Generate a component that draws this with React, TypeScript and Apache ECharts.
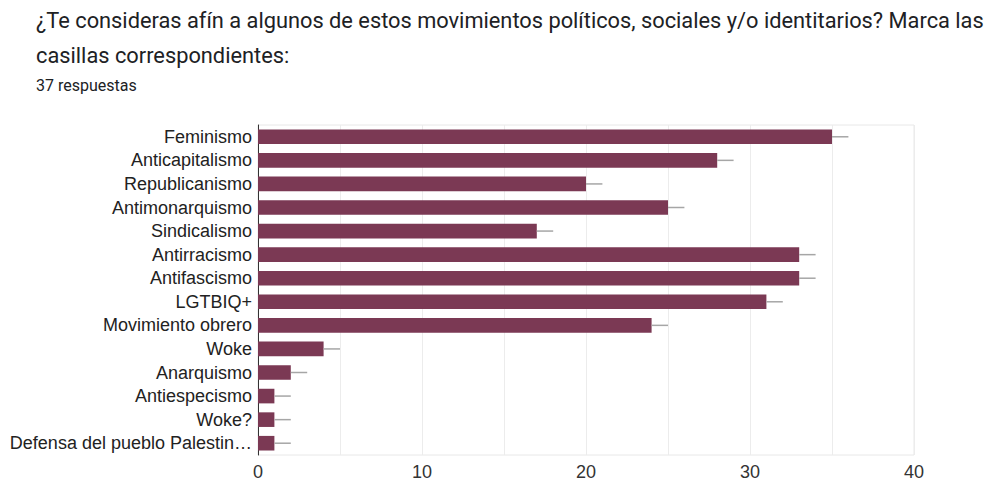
import React, { useEffect, useRef } from "react";
import * as echarts from "echarts";

const categories = [
  "Feminismo",
  "Anticapitalismo",
  "Republicanismo",
  "Antimonarquismo",
  "Sindicalismo",
  "Antirracismo",
  "Antifascismo",
  "LGTBIQ+",
  "Movimiento obrero",
  "Woke",
  "Anarquismo",
  "Antiespecismo",
  "Woke?",
  "Defensa del pueblo Palestin…",
];
const values = [35, 28, 20, 25, 17, 33, 33, 31, 24, 4, 2, 1, 1, 1];
const errors = [1, 1, 1, 1, 1, 1, 1, 1, 1, 1, 1, 1, 1, 1];
const titleLines = [
  "¿Te consideras afín a algunos de estos movimientos políticos, sociales y/o identitarios? Marca las",
  "casillas correspondientes:",
];
const subtitle = "37 respuestas";

export default function App() {
  const ref = useRef<HTMLDivElement>(null);
  useEffect(() => {
    if (!ref.current) return;
    const chart = echarts.init(ref.current, undefined, { renderer: "svg" });
    chart.setOption({
      animation: false,
      backgroundColor: "#ffffff",
      graphic: [
        {
          type: "text",
          left: 36,
          top: 9,
          style: {
            text: titleLines[0],
            font: "21.8px Roboto",
            fill: "#202124",
          },
        },
        {
          type: "text",
          left: 36,
          top: 44,
          style: {
            text: titleLines[1],
            font: "21.8px Roboto",
            fill: "#202124",
          },
        },
        {
          type: "text",
          left: 36,
          top: 77,
          style: {
            text: subtitle,
            font: "16px Roboto",
            fill: "#202124",
          },
        },
      ],
      grid: {
        left: 258,
        right: 72,
        top: 125,
        bottom: 26,
        show: true,
        borderColor: "#e8e8e8",
        borderWidth: 1,
      },
      xAxis: {
        type: "value",
        min: 0,
        max: 40,
        interval: 5,
        axisLine: { show: false },
        axisTick: { show: false },
        splitLine: { show: true, lineStyle: { color: "#ececec", width: 1 } },
        axisLabel: {
          formatter: (v: number) => (v % 10 === 0 ? String(v) : ""),
          fontFamily: "Liberation Sans, Arial, sans-serif",
          fontSize: 18,
          color: "#333333",
          margin: 8,
        },
      },
      yAxis: {
        type: "category",
        data: categories,
        inverse: true,
        axisLine: { show: true, lineStyle: { color: "#333333", width: 1 } },
        axisTick: { show: false },
        splitLine: { show: false },
        axisLabel: {
          fontFamily: "Liberation Sans, Arial, sans-serif",
          fontSize: 18,
          color: "#222222",
          margin: 6,
        },
      },
      series: [
        {
          type: "bar",
          data: values,
          barCategoryGap: "38%",
          itemStyle: { color: "#7b3954" },
          z: 2,
        },
        {
          type: "custom",
          z: 3,
          data: values.map((v, i) => [v, i, errors[i]]),
          encode: { x: 0, y: 1 },
          renderItem: (params: any, api: any) => {
            const v = api.value(0);
            const idx = api.value(1);
            const e = api.value(2);
            const p1 = api.coord([v, idx]);
            const p2 = api.coord([v + e, idx]);
            return {
              type: "line",
              shape: { x1: p1[0], y1: p1[1], x2: p2[0], y2: p2[1] },
              style: { stroke: "#a6a6a6", lineWidth: 1.5 },
            };
          },
        },
      ],
    });
    return () => chart.dispose();
  }, []);
  return <div ref={ref} style={{ width: 986, height: 481, position: "absolute", left: 0, top: 0 }} />;
}
